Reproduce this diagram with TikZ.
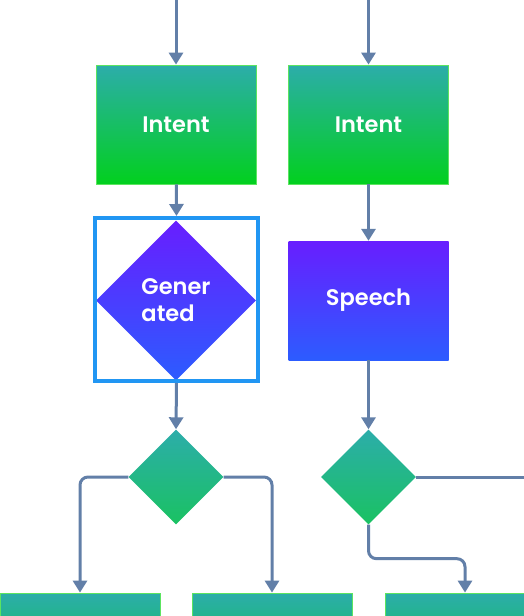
\documentclass[tikz,border=0pt]{standalone}
\usepackage{fontspec}
\setmainfont{Poppins}[BoldFont={* SemiBold}]
\usetikzlibrary{shapes.geometric, arrows.meta, calc, positioning}
\definecolor{flowteal}{RGB}{44,173,170}
\definecolor{flowgreen}{RGB}{2,208,30}
\definecolor{flowmint}{RGB}{26,194,98}
\definecolor{flowviolet}{RGB}{104,30,255}
\definecolor{flowblue}{RGB}{44,92,255}
\definecolor{flowline}{RGB}{98,127,168}
\definecolor{flowframe}{RGB}{33,150,243}
\definecolor{flowedge}{RGB}{92,228,96}

\begin{document}
\begin{tikzpicture}[x=1pt, y=-1pt]%{{{
        \useasboundingbox (0,0) rectangle (524,616);
        \clip (0,0) rectangle (524,616);

        \tikzstyle{box} = [rectangle, minimum width=160pt, minimum height=119pt, inner sep=0pt,
            text=white, font=\fontsize{22.5}{27}\selectfont\bfseries];
        \tikzstyle{intent} = [box, draw=flowedge, line width=0.8pt, top color=flowteal, bottom color=flowgreen];
        \tikzstyle{speech} = [box, top color=flowviolet, bottom color=flowblue];
        \tikzstyle{gem} = [diamond, inner sep=0pt, text=white, align=left,
            font=\fontsize{22.5}{27}\selectfont\bfseries];
        \tikzstyle{frame} = [rectangle, draw=flowframe, line width=4pt, minimum size=163pt];
        \tikzstyle{choice} = [diamond, inner sep=0pt, minimum size=95pt, top color=flowteal, bottom color=flowmint];
        \tikzstyle{link} = [draw=flowline, line width=3pt, rounded corners=8pt,
            -{Triangle[width=14pt, length=12pt]}];

        % upper row
        \node [intent] (intentA) at (176, 124.5) {Intent};
        \node [intent] (intentB) at (368.5, 124.5) {Intent};

        \node [gem, minimum size=160pt, top color=flowviolet, bottom color=flowblue]
            (gen) at (176, 300.5) {Gener\\ated};
        \node [frame] (genframe) at (176.5, 299.5) {};

        \node [speech] (speech) at (368.5, 300.5) {Speech};

        % decisions
        \node [choice] (choiceA) at (176, 477) {};
        \node [choice] (choiceB) at (368.5, 477) {};

        % lower row, cut by the page
        \foreach \nx/\nm in {80/outA, 272/outB, 465/outC}{
            \node [intent] (\nm) at (\nx, 652.5) {};
        }

        \coordinate (inA) at (176, -5);
        \coordinate (inB) at (368.5, -5);
        \coordinate (offB) at (540, 477);

        \draw [link] (inA) -- (intentA);
        \draw [link] (inB) -- (intentB);
        \draw [link] (intentA) -- (genframe.north);
        \draw [link] (intentB) -- (speech);
        \draw [link] (genframe.south) -- (choiceA.north);
        \draw [link] (speech) -- (choiceB.north);

        \draw [link] (choiceA.west) -| (outA.north);
        \draw [link] (choiceA.east) -| (outB.north);
        \draw [link] (choiceB.south) -- ++(0, 34) -| (outC.north);
        \draw [link, -] (choiceB.east) -- (offB);
    \end{tikzpicture}
\end{document}
